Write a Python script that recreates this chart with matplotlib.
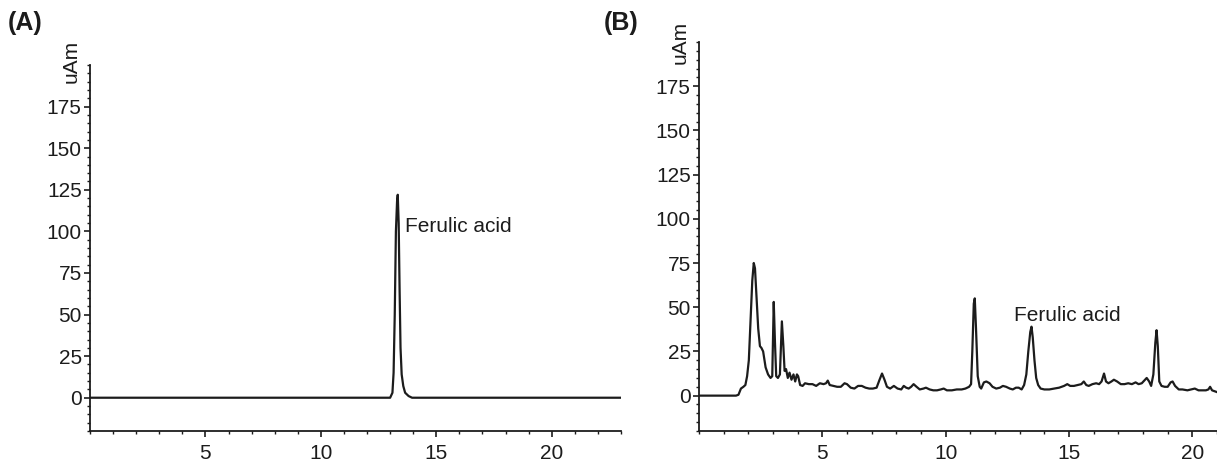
import matplotlib
matplotlib.use("Agg")
import matplotlib.pyplot as plt
from matplotlib.ticker import MultipleLocator

plt.rcParams['font.family'] = ['Liberation Sans', 'DejaVu Sans']

# (A) standard: ferulic acid only
std_time = [0, 13.0, 13.1, 13.15, 13.2, 13.25, 13.3, 13.33, 13.37, 13.41, 13.45,
            13.5, 13.57, 13.65, 13.8, 13.95, 23]
std_uam = [0, 0, 3, 15, 50, 100, 118, 122, 105, 65, 30, 14, 7, 3, 1, 0, 0]

# (B) sample chromatogram
smp_time = [0, 1.5, 1.6, 1.7, 1.8, 1.88, 1.95, 2.02, 2.09, 2.16, 2.22, 2.27, 2.33,
            2.4, 2.47, 2.53, 2.6, 2.7, 2.8, 2.9, 2.97, 3.03, 3.08, 3.13, 3.2,
            3.28, 3.36, 3.42, 3.47, 3.53, 3.6, 3.67, 3.75, 3.83, 3.9, 3.97, 4.02,
            4.1, 4.2, 4.3, 4.45, 4.6, 4.75, 4.9, 5.05, 5.15, 5.22, 5.3, 5.45, 5.6,
            5.75, 5.9, 6.0, 6.15, 6.3, 6.45, 6.6, 6.75, 6.9, 7.05, 7.2, 7.32,
            7.42, 7.52, 7.62, 7.75, 7.9, 8.05, 8.2, 8.3, 8.4, 8.5, 8.6, 8.7, 8.82,
            8.95, 9.1, 9.2, 9.35, 9.5, 9.65, 9.8, 9.92, 10.05, 10.25, 10.45,
            10.65, 10.8, 10.95, 11.03, 11.08, 11.14, 11.18, 11.23, 11.3, 11.38,
            11.44, 11.55, 11.65, 11.78, 11.9, 12.05, 12.2, 12.32, 12.45, 12.6,
            12.72, 12.85, 12.96, 13.08, 13.18, 13.27, 13.35, 13.43, 13.48, 13.53,
            13.6, 13.67, 13.75, 13.85, 14.0, 14.2, 14.4, 14.6, 14.8, 14.93,
            15.05, 15.2, 15.35, 15.5, 15.6, 15.7, 15.8, 15.95, 16.1, 16.22,
            16.32, 16.42, 16.5, 16.6, 16.72, 16.82, 16.95, 17.1, 17.25, 17.4,
            17.55, 17.7, 17.82, 17.95, 18.05, 18.15, 18.25, 18.33, 18.42, 18.5,
            18.55, 18.6, 18.66, 18.75, 18.88, 19.0, 19.12, 19.2, 19.3, 19.45,
            19.6, 19.8, 19.95, 20.1, 20.25, 20.4, 20.55, 20.65, 20.72, 20.8,
            20.9, 21.1]
smp_uam = [0, 0, 0.5, 4, 5, 6, 11, 20, 43, 65, 75, 72, 56,
           38, 28, 27, 25, 16, 12, 10, 11, 53, 30, 11, 10,
           12, 42, 28, 14, 15, 10, 13, 9, 12, 8, 12, 11,
           6, 5.5, 7, 6.5, 6.5, 5.5, 7, 6.5, 7, 8.5, 6, 5.5, 5,
           5, 7, 6.5, 4.5, 4, 5.5, 5.5, 4.5, 4, 4, 4.5, 9,
           12.5, 9, 5, 4, 5.5, 4, 3.5, 5.5, 4.5, 4, 5, 6.5, 5,
           3.5, 4, 4.5, 3.5, 3, 3, 3.5, 4, 3, 3, 3.5,
           3.5, 4, 5, 6.5, 25, 52, 55, 38, 11, 5,
           4, 7.5, 8, 7, 5, 4, 4.5, 5.5, 5, 4,
           3.5, 4.5, 4.5, 3.5, 6, 12, 25, 36, 39, 33,
           20, 10, 6, 4, 3.5, 3.5, 4, 4.5, 5.5, 6.5,
           5.5, 5.5, 6, 6.5, 8, 6, 5.5, 6.5, 7, 6.5,
           8, 12.5, 8, 7, 8, 9, 8, 6.5, 6.5, 7,
           6.5, 7.5, 6.5, 7, 8.5, 10, 8, 5.5, 12, 30,
           37, 28, 8, 5.5, 5, 5, 7.5, 8, 5.5, 3.5,
           3.5, 3, 3.5, 4, 3, 3, 3, 3.5, 5, 3,
           2.5, 1.5]

panels = ['(A)', '(B)']
x_max = [23, 21]
peak_label = 'Ferulic acid'
label_pos = [(13.65, 103), (12.77, 45.5)]
y_ticks = [0, 25, 50, 75, 100, 125, 150, 175]
x_ticks = [5, 10, 15, 20]

ink = '#1c1c1c'
fig = plt.figure(figsize=(12.17, 4.65), dpi=100)
axA = fig.add_axes([90 / 1217, 34 / 465, 531 / 1217, 366 / 465])
axB = fig.add_axes([699 / 1217, 34 / 465, 518 / 1217, 389 / 465])

axA.plot(std_time, std_uam, color=ink, linewidth=1.6)
axB.plot(smp_time, smp_uam, color=ink, linewidth=1.6)

for ax, xm, (lx, ly) in zip([axA, axB], x_max, label_pos):
    ax.set_xlim(0, xm)
    ax.set_ylim(-20, 200)
    for s in ['top', 'right']:
        ax.spines[s].set_visible(False)
    for s in ['left', 'bottom']:
        ax.spines[s].set_linewidth(1.3)
        ax.spines[s].set_color(ink)
    ax.set_xticks(x_ticks)
    ax.set_yticks(y_ticks)
    ax.xaxis.set_minor_locator(MultipleLocator(1))
    ax.yaxis.set_minor_locator(MultipleLocator(5))
    ax.tick_params(which='major', length=4.5, width=1.2, colors=ink, labelsize=15)
    ax.tick_params(which='minor', length=2.4, width=1.0, colors=ink)
    ax.tick_params(axis='y', pad=1.5)
    ax.tick_params(axis='x', pad=5)
    ax.text(lx, ly, peak_label, fontsize=15, color=ink, va='center', ha='left')

fig.text(8 / 1217, 1 - 23 / 465, panels[0], fontsize=18, fontweight='bold',
         va='center', ha='left', color=ink)
fig.text(604 / 1217, 1 - 23 / 465, panels[1], fontsize=18, fontweight='bold',
         va='center', ha='left', color=ink)
fig.text(71 / 1217, 1 - 83 / 465, 'uAm', rotation=90, fontsize=15,
         va='bottom', ha='center', color=ink)
fig.text(680 / 1217, 1 - 64 / 465, 'uAm', rotation=90, fontsize=15,
         va='bottom', ha='center', color=ink)

fig.savefig('out.png', dpi=100)
